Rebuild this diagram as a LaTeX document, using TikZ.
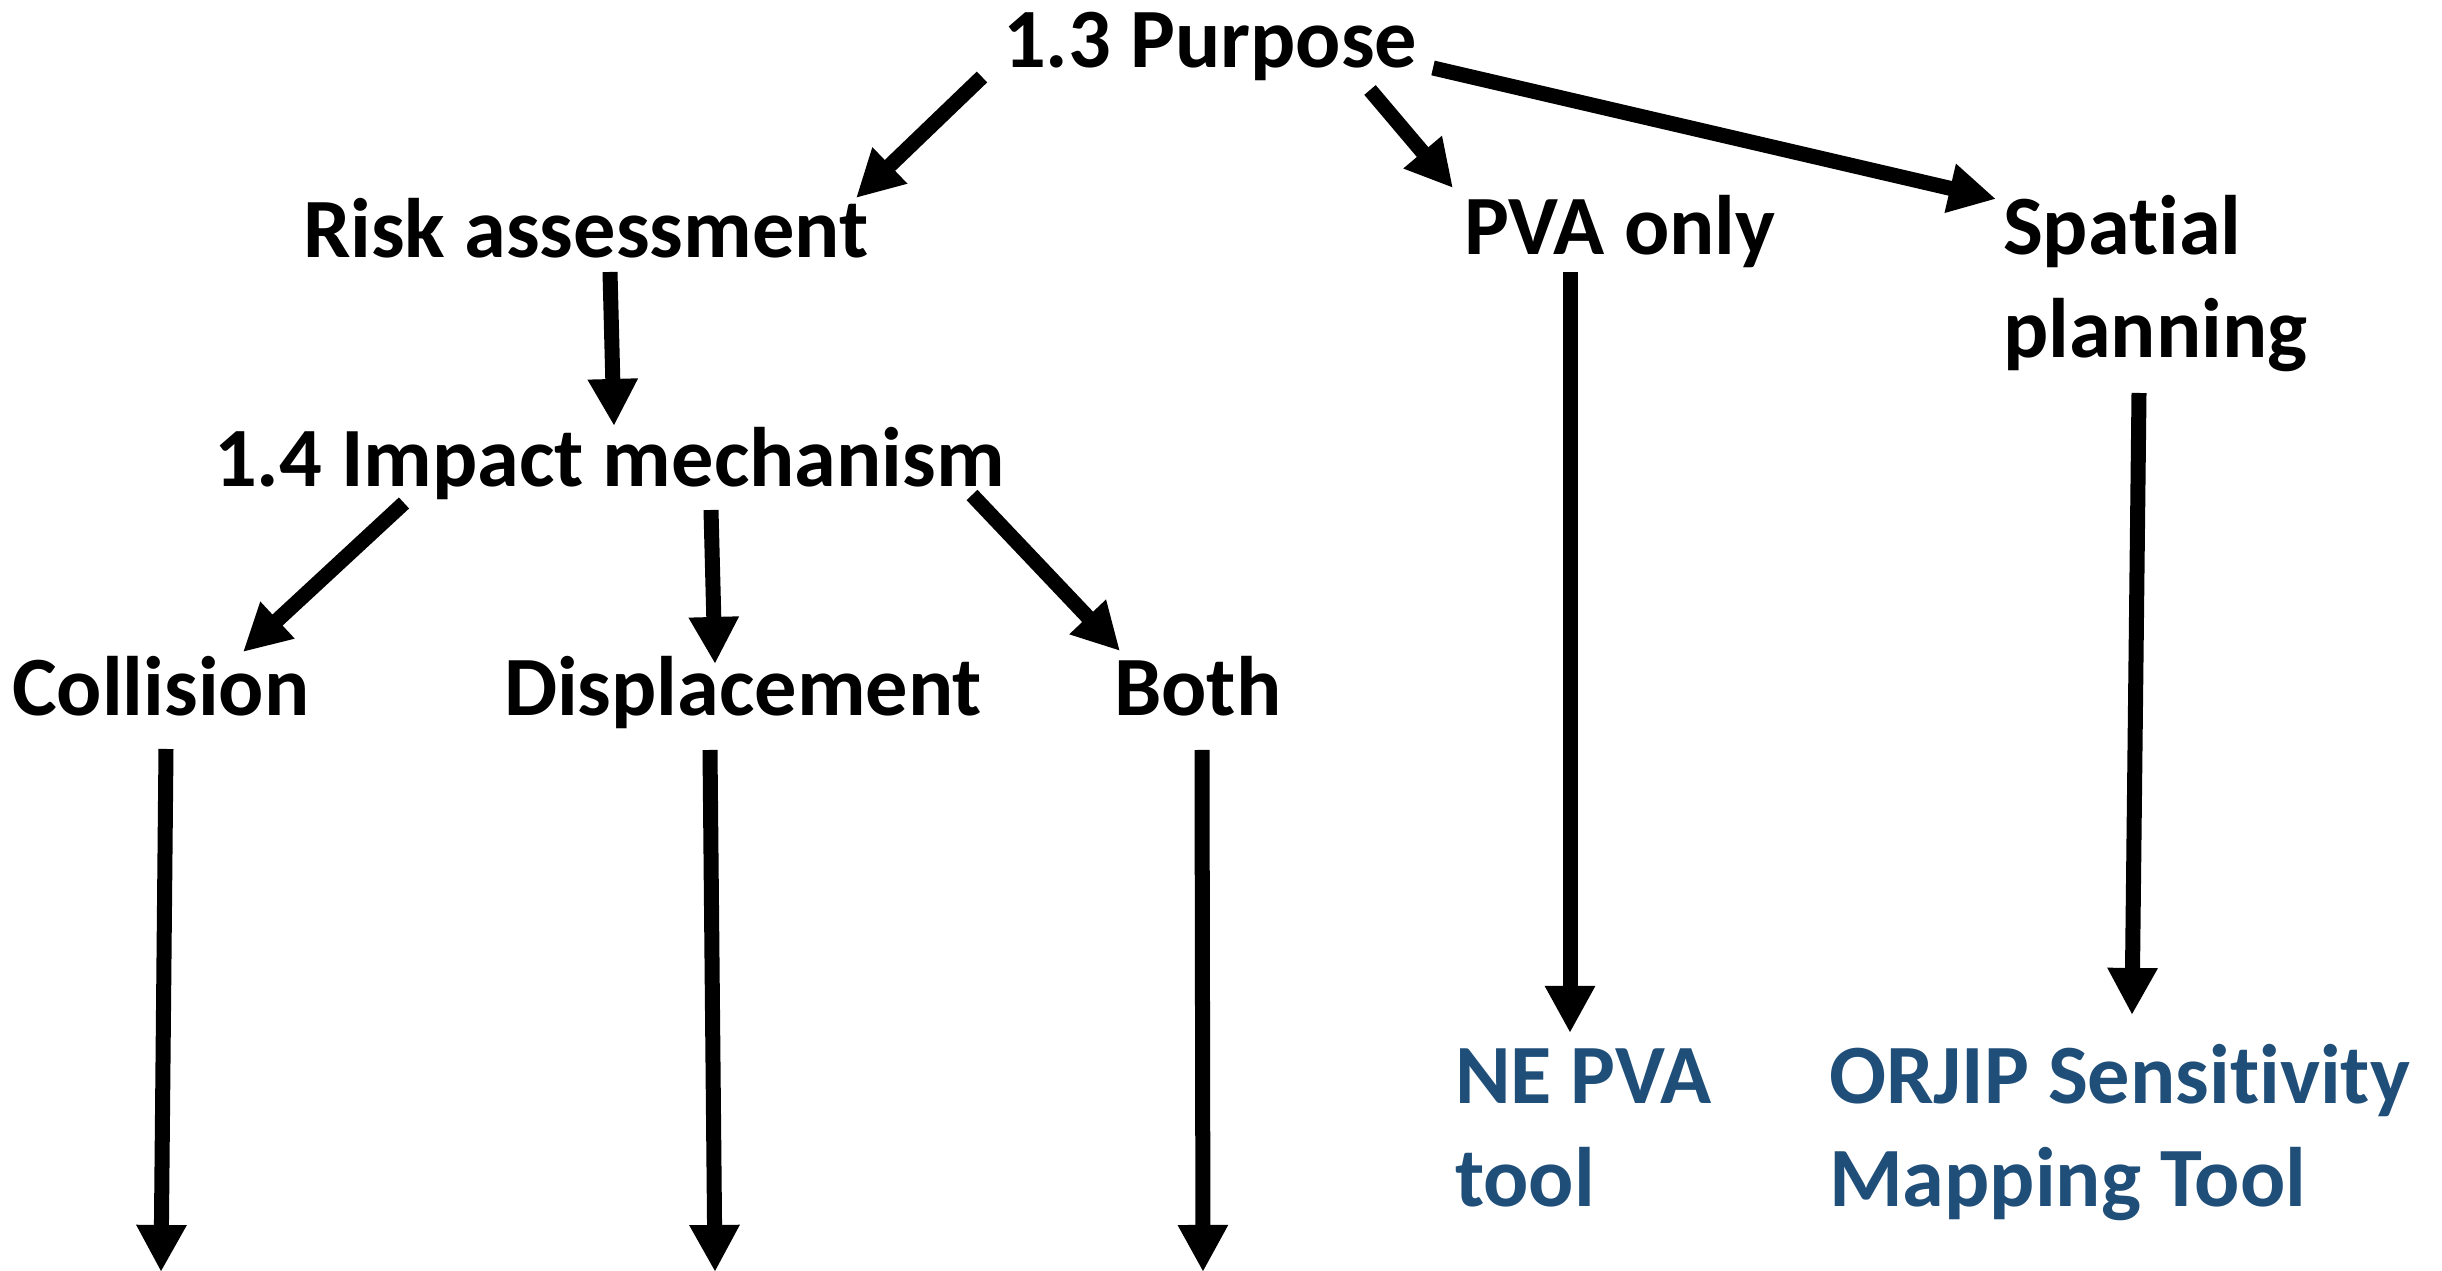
\documentclass[tikz,border=0pt]{standalone}
\usepackage{fontspec}
\setmainfont{Carlito}[Ligatures=NoCommon]
\usetikzlibrary{arrows.meta,calc}
\definecolor{toolblue}{RGB}{31,78,121}
\begin{document}
\begin{tikzpicture}[x=0.01cm,y=-0.01cm,
  lbl/.style={anchor=base west, inner sep=0pt, outer sep=0pt,
    font=\fontsize{24}{29.3}\selectfont\bfseries, align=left},
  tool/.style={lbl, text=toolblue},
  link/.style={line width=0.15cm, -{Triangle[length=0.47cm,width=0.47cm]}}]
  % canvas
  \fill[white] (0,0) rectangle (2442,1271);
  \useasboundingbox (0,0) rectangle (2442,1271);

  % labels (multi-line labels are anchored at the baseline of their last line)
  \node[lbl] (purpose)      at (1003,68)  {1.3 Purpose};
  \node[lbl] (risk)         at (303,258)  {Risk assessment};
  \node[lbl] (pva)          at (1464,255) {PVA only};
  \node[lbl] (spatial)      at (2003,358) {Spatial\\planning};
  \node[lbl] (impact)       at (214,487)  {1.4 Impact mechanism};
  \node[lbl] (collision)    at (12,716)   {Collision};
  \node[lbl] (displacement) at (504,716)  {Displacement};
  \node[lbl] (both)         at (1114,716) {Both};
  \node[tool] (nepva)       at (1455,1207) {NE PVA\\tool};
  \node[tool] (orjip)       at (1829,1207) {ORJIP Sensitivity\\Mapping Tool};

  % open ends at the bottom edge
  \coordinate (collisionout)    at (161,1272);
  \coordinate (displacementout) at (715,1272);
  \coordinate (bothout)         at (1203,1272);

  % connectors
  \draw[link] ($(purpose.base west)+(-21,9)$)  -- ($(risk.base west)+(553,-60)$);
  \draw[link] ($(purpose.base west)+(367,22)$) -- ($(pva.base west)+(-11,-67)$);
  \draw[link] ($(purpose.base west)+(430,0)$)  -- ($(spatial.base west)+(-7,-159)$);
  \draw[link] ($(risk.base west)+(307,14)$)    -- ($(impact.base west)+(400,-61)$);
  \draw[link] ($(impact.base west)+(190,16)$)  -- ($(collision.base west)+(231,-64)$);
  \draw[link] ($(impact.base west)+(497,23)$)  -- ($(displacement.base west)+(211,-52)$);
  \draw[link] ($(impact.base west)+(758,8)$)   -- ($(both.base west)+(6,-65)$);
  \draw[link] ($(pva.base west)+(106,17)$)     -- ($(nepva.base west)+(115,-174)$);
  \draw[link] ($(spatial.base west)+(136,35)$) -- ($(orjip.base west)+(303,-192)$);
  \draw[link] ($(collision.base west)+(154,33)$)    -- (collisionout);
  \draw[link] ($(displacement.base west)+(206,34)$) -- (displacementout);
  \draw[link] ($(both.base west)+(88,34)$)          -- (bothout);
\end{tikzpicture}
\end{document}
